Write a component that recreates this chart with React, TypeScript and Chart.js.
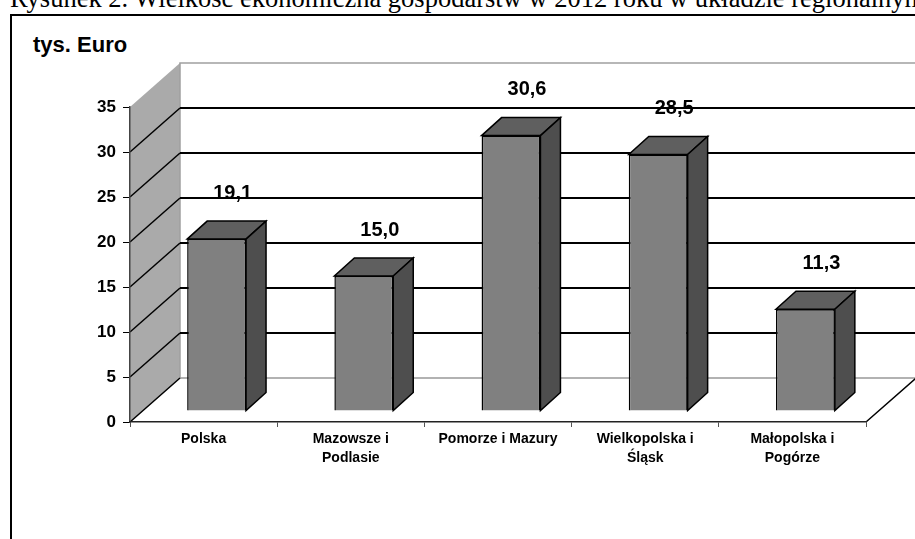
import React, { useEffect, useRef } from "react";
import { Chart, registerables } from "chart.js";

Chart.register(...registerables);

// ---- data ----
const CATEGORIES: string[][] = [
  ["Polska"],
  ["Mazowsze i", "Podlasie"],
  ["Pomorze i Mazury"],
  ["Wielkopolska i", "Śląsk"],
  ["Małopolska i", "Pogórze"],
];
const VALUES: number[] = [19.1, 15.0, 30.6, 28.5, 11.3];
const Y_MIN = 0;
const Y_MAX = 35;
const Y_STEP = 5;
const CAPTION =
  "Rysunek 2. Wielkość ekonomiczna gospodarstw  w 2012 roku w układzie regionalnym";
const UNIT_LABEL = "tys. Euro";

// ---- 3D look ----
const DEPTH_X = 50;
const DEPTH_Y = 44;
const BAR_SHIFT_X = 13;
const BAR_SHIFT_Y = -11;
const BAR_DX = 20;
const BAR_DY = 18;

const fmt = (v: number) => v.toFixed(1).replace(".", ",");

const threeD = {
  id: "threeD",
  beforeDraw(chart: any) {
    const ctx: CanvasRenderingContext2D = chart.ctx;
    const { left, right } = chart.chartArea;
    const ys = chart.scales.y;
    const y0 = ys.getPixelForValue(Y_MIN);
    const yTop = ys.getPixelForValue(Y_MAX);
    ctx.save();
    // side wall
    ctx.beginPath();
    ctx.moveTo(left, y0);
    ctx.lineTo(left, yTop);
    ctx.lineTo(left + DEPTH_X, yTop - DEPTH_Y);
    ctx.lineTo(left + DEPTH_X, y0 - DEPTH_Y);
    ctx.closePath();
    ctx.fillStyle = "#aaaaaa";
    ctx.fill();
    // back wall
    ctx.fillStyle = "#ffffff";
    ctx.fillRect(left + DEPTH_X, yTop - DEPTH_Y, right - left, y0 - yTop);
    ctx.strokeStyle = "#a0a0a0";
    ctx.lineWidth = 1.5;
    ctx.beginPath();
    ctx.moveTo(left + DEPTH_X, y0 - DEPTH_Y);
    ctx.lineTo(left + DEPTH_X, yTop - DEPTH_Y);
    ctx.lineTo(right + DEPTH_X, yTop - DEPTH_Y);
    ctx.lineTo(right + DEPTH_X, y0 - DEPTH_Y);
    ctx.stroke();
    // floor
    ctx.beginPath();
    ctx.moveTo(left, y0);
    ctx.lineTo(right, y0);
    ctx.lineTo(right + DEPTH_X, y0 - DEPTH_Y);
    ctx.lineTo(left + DEPTH_X, y0 - DEPTH_Y);
    ctx.closePath();
    ctx.fillStyle = "#ffffff";
    ctx.fill();
    ctx.strokeStyle = "#999999";
    ctx.beginPath();
    ctx.moveTo(left + DEPTH_X, y0 - DEPTH_Y);
    ctx.lineTo(right + DEPTH_X, y0 - DEPTH_Y);
    ctx.stroke();
    // grid lines
    ctx.strokeStyle = "#000000";
    ys.ticks.forEach((t: any) => {
      const v = t.value;
      if (v <= Y_MIN || v >= Y_MAX) return;
      const yy = ys.getPixelForValue(v);
      ctx.lineWidth = 2;
      ctx.beginPath();
      ctx.moveTo(left + DEPTH_X, yy - DEPTH_Y);
      ctx.lineTo(right + DEPTH_X, yy - DEPTH_Y);
      ctx.stroke();
      ctx.lineWidth = 1.5;
      ctx.beginPath();
      ctx.moveTo(left, yy);
      ctx.lineTo(left + DEPTH_X, yy - DEPTH_Y);
      ctx.stroke();
    });
    ctx.lineWidth = 1.5;
    ctx.beginPath();
    ctx.moveTo(left, y0);
    ctx.lineTo(left + DEPTH_X, y0 - DEPTH_Y);
    ctx.moveTo(right, y0);
    ctx.lineTo(right + DEPTH_X, y0 - DEPTH_Y);
    ctx.stroke();
    ctx.restore();
  },
  beforeDatasetsDraw(chart: any) {
    chart.ctx.save();
    chart.ctx.translate(BAR_SHIFT_X, BAR_SHIFT_Y);
  },
  afterDatasetsDraw(chart: any) {
    const ctx: CanvasRenderingContext2D = chart.ctx;
    ctx.restore();
    ctx.save();
    const meta = chart.getDatasetMeta(0);
    const data = chart.data.datasets[0].data as number[];
    meta.data.forEach((el: any, i: number) => {
      const { x, y, base, width } = el.getProps(["x", "y", "base", "width"], true);
      const l = x - width / 2 + BAR_SHIFT_X;
      const r = x + width / 2 + BAR_SHIFT_X;
      const t = y + BAR_SHIFT_Y;
      const b = base + BAR_SHIFT_Y;
      ctx.lineWidth = 1.5;
      ctx.strokeStyle = "#000";
      ctx.lineJoin = "miter";
      // top face
      ctx.beginPath();
      ctx.moveTo(l, t);
      ctx.lineTo(r, t);
      ctx.lineTo(r + BAR_DX, t - BAR_DY);
      ctx.lineTo(l + BAR_DX, t - BAR_DY);
      ctx.closePath();
      ctx.fillStyle = "#5f5f5f";
      ctx.fill();
      ctx.stroke();
      // side face
      ctx.beginPath();
      ctx.moveTo(r, t);
      ctx.lineTo(r + BAR_DX, t - BAR_DY);
      ctx.lineTo(r + BAR_DX, b - BAR_DY);
      ctx.lineTo(r, b);
      ctx.closePath();
      ctx.fillStyle = "#4e4e4e";
      ctx.fill();
      ctx.stroke();
      // value label
      ctx.fillStyle = "#000";
      ctx.font = 'bold 20px "Liberation Sans", Arial, sans-serif';
      ctx.textAlign = "center";
      ctx.textBaseline = "middle";
      ctx.fillText(fmt(data[i]), x + BAR_SHIFT_X + 16, t - 46);
    });
    ctx.restore();
  },
};

export default function App() {
  const ref = useRef<HTMLCanvasElement | null>(null);
  useEffect(() => {
    if (!ref.current) return;
    const chart = new Chart(ref.current, {
      type: "bar",
      data: {
        labels: CATEGORIES,
        datasets: [
          {
            data: VALUES,
            backgroundColor: "#808080",
            borderColor: "#000000",
            borderWidth: 1.5,
            barPercentage: 0.4,
            categoryPercentage: 1.0,
          },
        ],
      },
      options: {
        responsive: false,
        animation: false,
        devicePixelRatio: 1,
        layout: { padding: { left: 0, top: 107, right: 49, bottom: 0 } },
        plugins: {
          legend: { display: false },
          tooltip: { enabled: false },
          title: { display: false },
        },
        scales: {
          y: {
            min: Y_MIN,
            max: Y_MAX,
            ticks: {
              stepSize: Y_STEP,
              color: "#000",
              padding: 7,
              font: { family: '"Liberation Sans", Arial, sans-serif', size: 17, weight: "bold" },
            },
            grid: { drawOnChartArea: false, drawTicks: true, tickLength: 7, color: "#000" },
            border: { display: true, color: "#444", width: 1.5 },
            afterFit: (s: any) => {
              s.width = 130;
            },
          },
          x: {
            ticks: {
              color: "#000",
              padding: 3,
              maxRotation: 0,
              autoSkip: false,
              font: { family: '"Liberation Sans", Arial, sans-serif', size: 14, weight: "bold", lineHeight: 1.35 },
            },
            grid: { drawOnChartArea: false, drawTicks: true, tickLength: 5, color: "#555", offset: true },
            border: { display: true, color: "#222", width: 1.5 },
            afterFit: (s: any) => {
              s.height = 117;
            },
          },
        },
      },
      plugins: [threeD],
    });
    return () => chart.destroy();
  }, []);

  return (
    <div style={{ position: "absolute", left: 0, top: 0, width: 915, height: 539, overflow: "hidden", background: "#fff" }}>
      <div
        style={{
          position: "absolute",
          left: 10,
          top: -15,
          font: '26.5px "Liberation Serif", "Times New Roman", serif',
          lineHeight: "26px",
          whiteSpace: "nowrap",
          color: "#000",
        }}
      >
        {CAPTION}
      </div>
      <div
        style={{
          position: "absolute",
          left: 10,
          top: 14,
          width: 940,
          height: 600,
          borderLeft: "2px solid #000",
          borderTop: "2px solid #000",
          background: "#fff",
        }}
      />
      <div
        style={{
          position: "absolute",
          left: 33,
          top: 32,
          font: 'bold 22px "Liberation Sans", Arial, sans-serif',
          lineHeight: "26px",
          whiteSpace: "nowrap",
          color: "#000",
        }}
      >
        {UNIT_LABEL}
      </div>
      <canvas ref={ref} width={915} height={539} style={{ position: "absolute", left: 0, top: 0, display: "block" }} />
    </div>
  );
}
